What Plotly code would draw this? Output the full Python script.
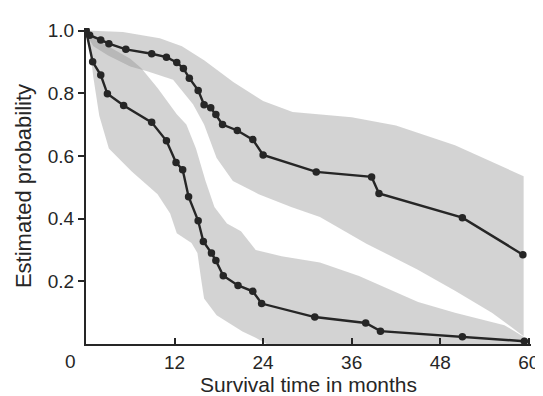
import plotly.graph_objects as go

# Kaplan-Meier style survival estimates (months, probability)
upper_t = [0, 0.5, 2.0, 3.1, 5.4, 8.9, 10.9, 12.3, 13.2, 14.0, 15.2, 16.0, 16.9, 17.6, 18.5, 20.5, 22.6, 24.0, 31.2, 38.7, 39.7, 51.0, 59.2]
upper_s = [1.0, 0.985, 0.97, 0.958, 0.94, 0.926, 0.915, 0.898, 0.879, 0.848, 0.809, 0.763, 0.754, 0.732, 0.70, 0.681, 0.652, 0.603, 0.549, 0.533, 0.48, 0.403, 0.285]

lower_t = [0, 0.9, 2.0, 2.9, 5.1, 8.9, 10.9, 12.2, 13.1, 13.9, 15.2, 15.9, 17.0, 17.6, 18.6, 20.6, 22.6, 23.8, 31.0, 37.9, 39.9, 51.0, 59.4]
lower_s = [1.0, 0.90, 0.858, 0.798, 0.761, 0.707, 0.648, 0.579, 0.556, 0.47, 0.393, 0.327, 0.29, 0.266, 0.218, 0.187, 0.168, 0.129, 0.086, 0.067, 0.041, 0.023, 0.009]

# Confidence bands: upper group
ub_hi_t = [0, 5, 10, 13, 16, 20, 24, 28, 36, 42, 50, 59.3]
ub_hi_s = [1.0, 0.995, 0.975, 0.95, 0.905, 0.835, 0.775, 0.74, 0.723, 0.697, 0.634, 0.535]
ub_lo_t = [0, 1, 3, 6, 8.3, 11.8, 14.5, 16, 17.7, 19.9, 23.4, 27.8, 31.7, 38, 44.9, 50, 55, 59.3]
ub_lo_s = [0.99, 0.95, 0.92, 0.885, 0.87, 0.843, 0.765, 0.70, 0.593, 0.52, 0.478, 0.437, 0.405, 0.32, 0.238, 0.17, 0.10, 0.025]

# Confidence bands: lower group
lb_hi_t = [0, 1, 3, 6, 7.5, 9.7, 12.3, 13.6, 14.9, 16.2, 17.4, 19.1, 21, 23, 26.5, 31.7, 37, 45, 50, 56.7, 59.5]
lb_hi_s = [1.0, 0.98, 0.95, 0.91, 0.88, 0.817, 0.733, 0.70, 0.624, 0.52, 0.437, 0.384, 0.36, 0.30, 0.28, 0.26, 0.217, 0.134, 0.10, 0.06, 0.02]
lb_lo_t = [0, 0.5, 1, 1.8, 3.1, 6.2, 9.7, 11.4, 12.3, 14.3, 15.1, 15.6, 16, 17.7, 21.2, 23, 24.5, 59.5]
lb_lo_s = [1.0, 0.95, 0.85, 0.728, 0.624, 0.55, 0.478, 0.416, 0.353, 0.322, 0.29, 0.207, 0.145, 0.092, 0.04, 0.02, 0.0, 0.0]

x_ticks = [12, 24, 36, 48, 60]
y_ticks = [0.2, 0.4, 0.6, 0.8, 1.0]

FONT = "Liberation Sans, Arial, sans-serif"
INK = "#262626"
BAND = "rgba(140,140,140,0.38)"

fig = go.Figure()

for hi_t, hi_s, lo_t, lo_s in [(ub_hi_t, ub_hi_s, ub_lo_t, ub_lo_s),
                               (lb_hi_t, lb_hi_s, lb_lo_t, lb_lo_s)]:
    fig.add_trace(go.Scatter(
        x=hi_t + lo_t[::-1], y=hi_s + lo_s[::-1],
        fill="toself", fillcolor=BAND, mode="none",
        line=dict(width=0), hoverinfo="skip", showlegend=False))

for t, s in [(upper_t, upper_s), (lower_t, lower_s)]:
    fig.add_trace(go.Scatter(
        x=t, y=s, mode="lines+markers",
        line=dict(color=INK, width=2.4),
        marker=dict(color=INK, size=7.5),
        showlegend=False))

fig.add_annotation(x=0, y=0, xref="x", yref="y", text="0", showarrow=False,
                   xshift=-16, yshift=-17, font=dict(family=FONT, size=19, color=INK))

fig.update_layout(
    width=543, height=396,
    margin=dict(l=78, r=12, t=20, b=53),
    paper_bgcolor="white", plot_bgcolor="white",
    font=dict(family=FONT, size=19, color=INK),
)
fig.update_xaxes(
    range=[0, 60.3], tickvals=x_ticks, ticktext=[str(v) for v in x_ticks],
    ticks="inside", ticklen=6, tickwidth=1.5, tickcolor=INK,
    showline=True, linecolor=INK, linewidth=2, showgrid=False, zeroline=False,
    title=dict(text="Survival time in months", font=dict(size=21), standoff=5),
    tickfont=dict(size=19),
)
fig.update_yaxes(
    range=[0, 1.008], tickvals=y_ticks, ticktext=["0.2", "0.4", "0.6", "0.8", "1.0"],
    ticks="outside", ticklen=6, tickwidth=1.5, tickcolor=INK,
    showline=True, linecolor=INK, linewidth=2, showgrid=False, zeroline=False,
    title=dict(text="Estimated probability", font=dict(size=22), standoff=10),
    tickfont=dict(size=19),
)

fig.write_html("out.html")
